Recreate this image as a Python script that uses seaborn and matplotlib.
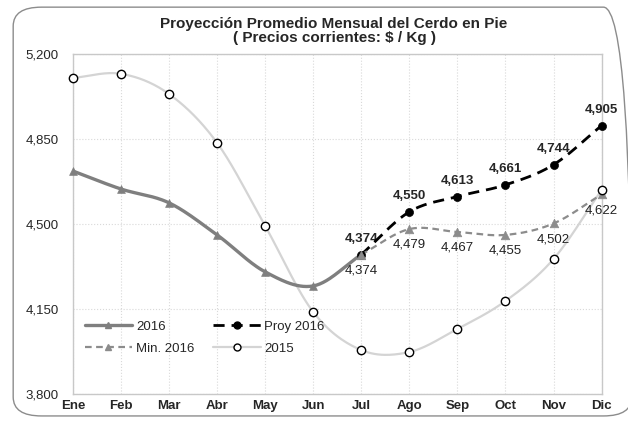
import numpy as np
import pandas as pd
import matplotlib
matplotlib.use("Agg")
import matplotlib.pyplot as plt
from matplotlib.lines import Line2D
from matplotlib.patches import FancyBboxPatch
import seaborn as sns

# -----------------------------
# Data
# -----------------------------
months = ["Ene", "Feb", "Mar", "Abr", "May", "Jun",
          "Jul", "Ago", "Sep", "Oct", "Nov", "Dic"]

precio_2015 = [5101, 5118, 5035, 4834, 4492, 4138,
               3981, 3973, 4068, 4183, 4356, 4640]
precio_2016 = [4718, 4644, 4587, 4455, 4303, 4245, 4374]
proy_2016 = [4374, 4550, 4613, 4661, 4744, 4905]
min_2016 = [4374, 4479, 4467, 4455, 4502, 4622]

yticks = [3800, 4150, 4500, 4850, 5200]

title = "Proyección Promedio Mensual del Cerdo en Pie\n( Precios corrientes: $ / Kg )"


# smoothed curve through the points (like Excel "smoothed line")
def smooth(xs, ys, steps=30):
    xs = np.asarray(xs, float)
    ys = np.asarray(ys, float)
    px = np.concatenate([[2 * xs[0] - xs[1]], xs, [2 * xs[-1] - xs[-2]]])
    py = np.concatenate([[2 * ys[0] - ys[1]], ys, [2 * ys[-1] - ys[-2]]])
    out_x, out_y = [], []
    t = np.linspace(0, 1, steps)
    for i in range(1, len(px) - 2):
        for p, out in ((px, out_x), (py, out_y)):
            p0, p1, p2, p3 = p[i - 1], p[i], p[i + 1], p[i + 2]
            seg = 0.5 * ((2 * p1) + (-p0 + p2) * t +
                         (2 * p0 - 5 * p1 + 4 * p2 - p3) * t ** 2 +
                         (-p0 + 3 * p1 - 3 * p2 + p3) * t ** 3)
            out.extend(seg)
    return np.array(out_x), np.array(out_y)


# -----------------------------
# Figure
# -----------------------------
sns.set_style("white")
plt.rcParams['font.family'] = ['Liberation Sans', 'DejaVu Sans']

fig = plt.figure(figsize=(6.28, 4.21), dpi=100)
ax = fig.add_axes([0.116, 0.064, 0.842, 0.808])

x_all = np.arange(12)
x_2016 = np.arange(len(precio_2016))
x_proj = np.arange(6, 12)

c2015 = "#d4d4d4"
c2016 = "#7f7f7f"
cmin = "#8c8c8c"

# 2015
sx, sy = smooth(x_all, precio_2015)
ax.plot(sx, sy, color=c2015, lw=1.6, zorder=2)
df15 = pd.DataFrame({"x": x_all, "y": precio_2015})
sns.scatterplot(data=df15, x="x", y="y", marker="o", s=36, color="white",
                edgecolor="black", linewidth=1.0, ax=ax, zorder=6, clip_on=False)

# 2016
sx, sy = smooth(x_2016, precio_2016)
ax.plot(sx, sy, color=c2016, lw=2.4, zorder=3)
df16 = pd.DataFrame({"x": x_2016, "y": precio_2016})
sns.scatterplot(data=df16, x="x", y="y", marker="^", s=32, color=c2016,
                edgecolor=c2016, ax=ax, zorder=4, clip_on=False)

# Proy 2016
sx, sy = smooth(x_proj, proy_2016)
ax.plot(sx, sy, color="black", lw=2.0, ls=(0, (4, 2.5)), zorder=4)
dfp = pd.DataFrame({"x": x_proj, "y": proy_2016})
sns.scatterplot(data=dfp, x="x", y="y", marker="o", s=34, color="black",
                edgecolor="black", ax=ax, zorder=5, clip_on=False)

# Min. 2016
sx, sy = smooth(x_proj, min_2016)
ax.plot(sx, sy, color=cmin, lw=1.6, ls=(0, (3, 2)), zorder=4)
dfm = pd.DataFrame({"x": x_proj, "y": min_2016})
sns.scatterplot(data=dfm, x="x", y="y", marker="^", s=38, color=cmin,
                edgecolor=cmin, ax=ax, zorder=5, clip_on=False)

# data labels
for x, v in zip(x_proj, proy_2016):
    ax.annotate(f"{v:,}", (x, v), xytext=(0, 7), textcoords="offset points",
                ha="center", va="bottom", fontsize=9.5, fontweight="bold")
for x, v in zip(x_proj, min_2016):
    ax.annotate(f"{v:,}", (x, v), xytext=(0, -7), textcoords="offset points",
                ha="center", va="top", fontsize=9.5, color="#222222")

# axes
ax.set_xlim(0, 11)
ax.set_ylim(3800, 5200)
ax.set_xticks(x_all)
ax.set_xticklabels(months, fontweight="bold", fontsize=9.5)
ax.set_yticks(yticks)
ax.set_yticklabels([f"{v:,}" for v in yticks], fontsize=9.5)
ax.set_xlabel("")
ax.set_ylabel("")
ax.tick_params(axis="y", length=0, pad=10)
ax.tick_params(axis="x", length=0, pad=4)
ax.grid(True, color="#d9d9d9", ls=":", lw=0.8)
for s in ax.spines.values():
    s.set_color("#c8c8c8")
    s.set_linewidth(1.0)

fig.text(0.532, 0.96, title, ha="center", va="top", fontsize=11,
         fontweight="bold", linespacing=1.05)

# legend
handles = [
    Line2D([], [], color=c2016, lw=2.4, marker="^", ms=4),
    Line2D([], [], color=cmin, lw=1.6, ls=(0, (3, 2)), marker="^", ms=5),
    Line2D([], [], color="black", lw=2.0, ls=(0, (4, 2.5)), marker="o", ms=5),
    Line2D([], [], color=c2015, lw=1.6, marker="o", ms=5,
           markerfacecolor="white", markeredgecolor="black"),
]
labels = ["2016", "Min. 2016", "Proy 2016", "2015"]
ax.legend(handles, labels, ncol=2, loc="lower left",
          bbox_to_anchor=(0.0, 0.08), frameon=False, fontsize=9.5,
          handlelength=3.6, columnspacing=1.4, handletextpad=0.3,
          labelspacing=0.75)

# rounded outer border
border = FancyBboxPatch((0.021, 0.012), 0.985, 0.971,
                        boxstyle="round,pad=0,rounding_size=0.045",
                        transform=fig.transFigure, fill=False,
                        edgecolor="#8c8c8c", lw=1.0)
fig.patches.append(border)

fig.savefig("out.png", dpi=100)
